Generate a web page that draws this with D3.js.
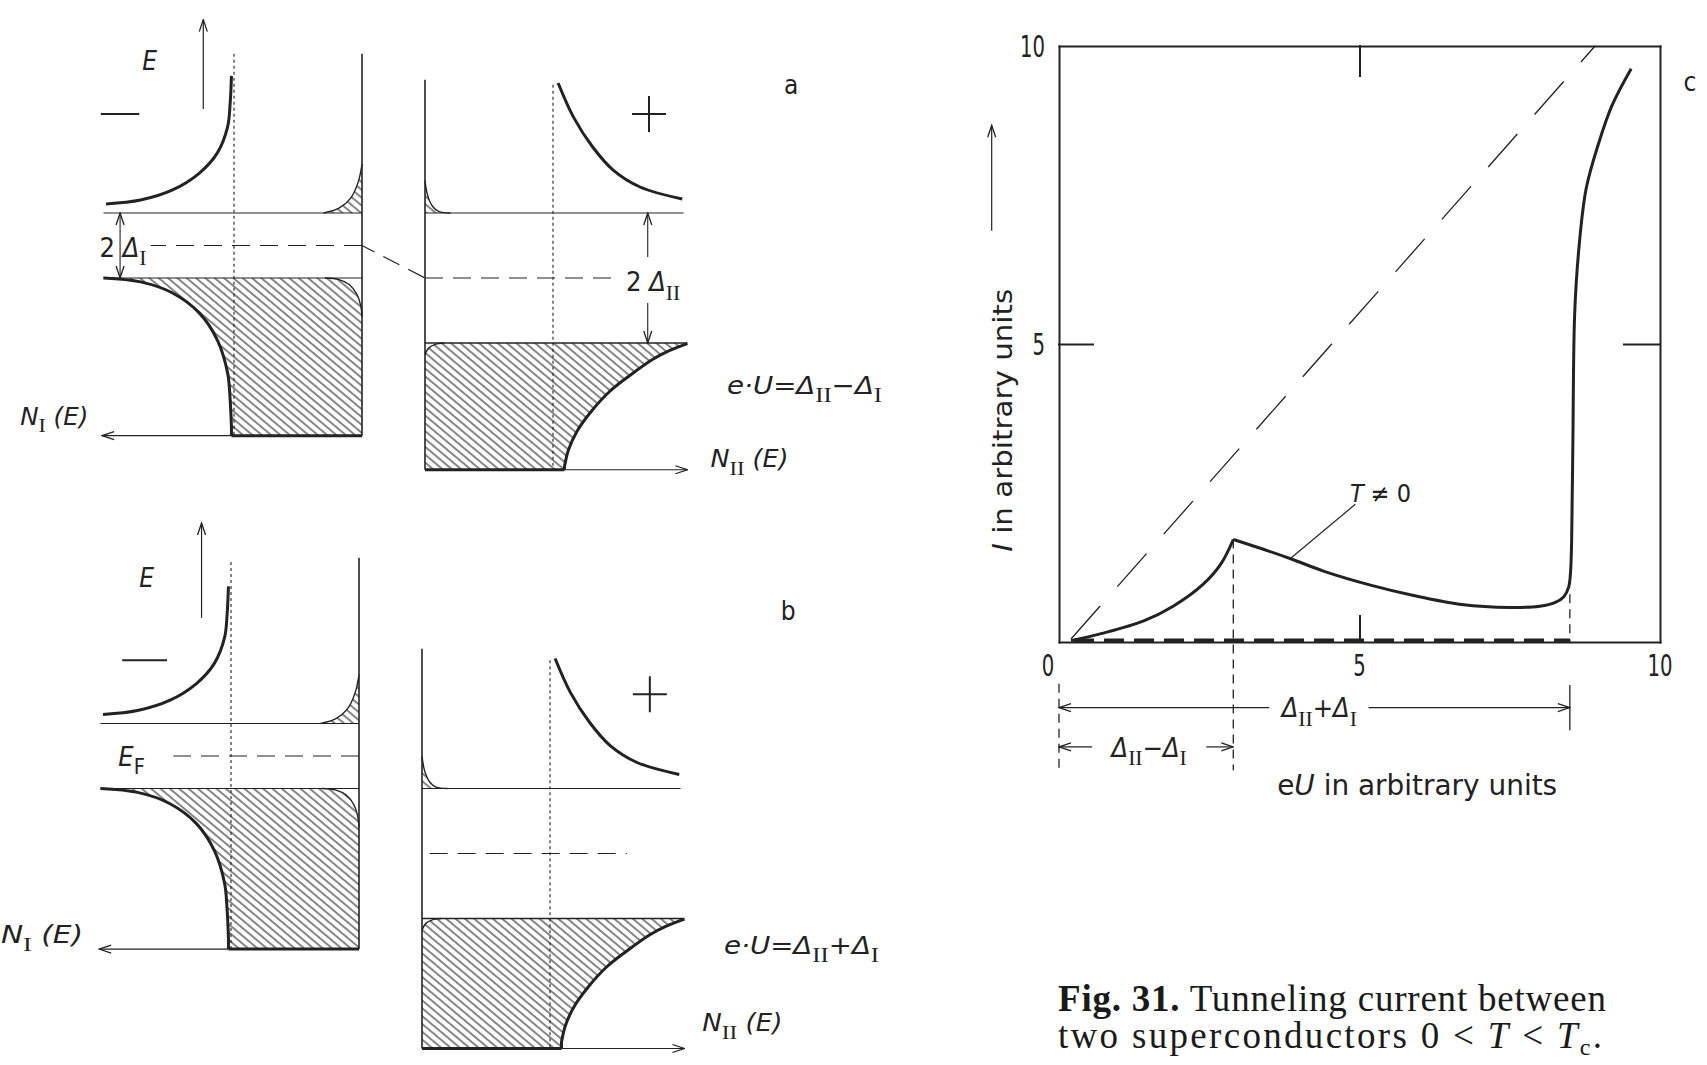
<!DOCTYPE html>
<html>
<head>
<meta charset="utf-8">
<script src="https://cdn.jsdelivr.net/npm/d3@7"></script>
<style>
  body { margin: 0; background: #fff; }
  svg { display: block; }
</style>
</head>
<body>
<div id="chart"></div>
<script>
// Fig. 31 - tunneling between two superconductors (DOS sketches a, b and I-U curve c)

// ---------- data ----------
// DOS sketches: points are [N, E], N in units of the normal DOS, E in units of Delta_I
const panelLetters = ["a", "b"];
const panelBias = [1, 3];          // eU = D_II - D_I and D_II + D_I
const panelSign = ["\u2212", "+"];
const deltaI = 1;
const deltaII = 2;

const dosIUpper = [[1.02, 5.22], [1.03, 4.38], [1.05, 3.65], [1.13, 2.85], [1.27, 2.23], [1.48, 1.71], [1.73, 1.4], [2.0, 1.28]];
const dosILower = [[2.02, -1.0], [1.73, -1.12], [1.48, -1.46], [1.27, -2.08], [1.13, -2.91], [1.05, -3.92], [1.03, -4.75], [1.02, -5.6]];
const tailIUpper = [[0.3, 1.0], [0.18, 1.15], [0.09, 1.45], [0.03, 1.95], [0, 2.5]];
const tailILower = [[0, -2.2], [0.01, -1.85], [0.04, -1.5], [0.1, -1.2], [0.18, -1.05], [0.29, -1.0]];

const dosIIUpper = [[1.04, 6.0], [1.16, 4.95], [1.31, 4.03], [1.47, 3.32], [1.68, 2.8], [2.01, 2.43]];
const dosIILower = [[2.05, -2.02], [1.9, -2.25], [1.78, -2.5], [1.6, -3.0], [1.44, -3.5], [1.3, -4.1], [1.19, -4.7], [1.12, -5.3], [1.09, -5.8]];
const tailIIUpper = [[0, 3.0], [0.02, 2.55], [0.06, 2.2], [0.11, 2.04], [0.2, 2.0]];
const tailIILower = [[0, -2.35], [0.03, -2.15], [0.08, -2.04], [0.15, -2.0]];

// I-U characteristic (arbitrary units)
const ivU = [0.2, 0.7, 1.4, 1.9, 2.4, 2.7, 2.9, 3.3, 3.9, 4.4, 5.2, 5.9, 6.7, 7.5, 8.0, 8.25, 8.4, 8.48, 8.51, 8.53, 8.55, 8.58, 8.65, 8.77, 8.97, 9.2, 9.52];
const ivI = [0.02, 0.14, 0.35, 0.6, 0.97, 1.32, 1.72, 1.59, 1.38, 1.19, 0.95, 0.78, 0.63, 0.58, 0.6, 0.66, 0.76, 0.92, 1.15, 1.7, 3.3, 5.5, 6.6, 7.6, 8.34, 9.0, 9.62];
const peakIndex = 6;
const ohmicU = [0.2, 8.92];
const ohmicI = [0.05, 10];
const gapDiffU = 2.9;
const gapSumU = 8.5;
const tickVals = [0, 5, 10];

// ---------- setup ----------
const W = 1707, H = 1065;
const ink = "#222";
const sansC = "'DejaVu Sans Condensed','Liberation Sans Narrow','DejaVu Sans',sans-serif";
const serif = "'Liberation Serif','DejaVu Serif',serif";

const svg = d3.select("#chart").append("svg")
    .attr("width", W).attr("height", H)
    .attr("viewBox", `0 0 ${W} ${H}`);

const defs = svg.append("defs");
const pat = defs.append("pattern").attr("id", "hatch")
    .attr("patternUnits", "userSpaceOnUse")
    .attr("width", 6).attr("height", 6)
    .attr("patternTransform", "rotate(-50)");
pat.append("line").attr("x1", 3).attr("y1", -1).attr("x2", 3).attr("y2", 7)
    .attr("stroke", "#444").attr("stroke-width", 1.3);

defs.append("marker").attr("id", "head")
    .attr("viewBox", "-13 -6 14 12").attr("refX", 0).attr("refY", 0)
    .attr("markerUnits", "userSpaceOnUse").attr("markerWidth", 14).attr("markerHeight", 12)
    .attr("orient", "auto-start-reverse")
    .append("path").attr("d", "M-12,-4 L0,0 L-12,4")
    .attr("fill", "none").attr("stroke", ink).attr("stroke-width", 1.3);

function dStr(parts, sx, sy) {
    const curved = d3.line().x(p => sx(p[0])).y(p => sy(p[1])).curve(d3.curveCatmullRom.alpha(0.5));
    const straight = d3.line().x(p => sx(p[0])).y(p => sy(p[1]));
    return parts.map((p, k) => {
        const s = (p.c ? curved : straight)(p.pts);
        return k ? s.replace(/^M/, "L") : s;
    }).join("");
}

function stroke(g, d, w, dash) {
    const p = g.append("path").attr("d", d).attr("fill", "none")
        .attr("stroke", ink).attr("stroke-width", w)
        .attr("stroke-linecap", "butt").attr("stroke-linejoin", "round");
    if (dash) p.attr("stroke-dasharray", dash);
    return p;
}

function arrow(g, x1, y1, x2, y2, w, start, end) {
    const l = g.append("line").attr("x1", x1).attr("y1", y1).attr("x2", x2).attr("y2", y2)
        .attr("stroke", ink).attr("stroke-width", w);
    if (start) l.attr("marker-start", "url(#head)");
    if (end) l.attr("marker-end", "url(#head)");
    return l;
}

// parts: [text, flags] flags: i italic, s subscript, r serif
function label(g, x, yc, parts, size, anchor, len) {
    const t = g.append("text").attr("x", x).attr("y", yc + size * 0.36)
        .attr("font-family", sansC).attr("font-size", size)
        .attr("text-anchor", anchor || "start").attr("fill", ink);
    let shift = 0;
    parts.forEach(([txt, f = ""]) => {
        const sp = t.append("tspan").text(txt);
        const want = f.includes("s") ? size * 0.32 : 0;
        if (want !== shift) { sp.attr("dy", want - shift); shift = want; }
        if (f.includes("i")) sp.attr("font-style", "italic");
        if (f.includes("r")) sp.attr("font-family", serif);
        if (f.includes("s")) sp.attr("font-size", size * 0.8);
    });
    if (len) t.attr("textLength", len).attr("lengthAdjust", "spacingAndGlyphs");
    return t;
}

// ---------- panels a, b : densities of states ----------
const nUnit = 128, eUnit = 32.5;
const dosLayout = [
    {xI: 362, xII: 425, yF: 245.5, topI: 5.9, topII: 6.1, botI: -5.85, botII: -5.9, dotI: 5.9,
     fermiI: [0, 1.65], fermiII: [0, 1.48], eArrow: [1.24, 4.2, 6.95], eLabel: [1.66, 5.7],
     minus: [1.74, 2.04, 4.05], plus: [1.75, 5.05], letter: [2.86, 5.94],
     nILabel: [2.67, -5.25, 68], nIILabel: [2.23, -5.55, 78], eq: [2.36, -3.3, 155],
     gapArrows: true, fermiLabel: false},
    {xI: 359, xII: 422, yF: 756, topI: 6.1, topII: 6.3, botI: -5.94, botII: -6.0, dotI: 5.97,
     fermiI: [0, 1.45], fermiII: [0.06, 1.6], eArrow: [1.23, 4.25, 7.17], eLabel: [1.66, 5.5],
     minus: [1.5, 1.85, 2.95], plus: [1.78, 4.9], letter: [2.86, 7.46],
     nILabel: [2.8, -5.5, 82], nIILabel: [2.19, -5.2, 80], eq: [2.36, -2.8, 155],
     gapArrows: false, fermiLabel: true}
];

panelLetters.forEach((letter, i) => {
    const L = dosLayout[i];
    const bias = panelBias[i];
    const g = svg.append("g").attr("class", "panel-" + letter);

    const nI = d3.scaleLinear().domain([0, 1]).range([L.xI, L.xI - nUnit]);
    const eI = d3.scaleLinear().domain([0, 1]).range([L.yF, L.yF - eUnit]);
    const nII = d3.scaleLinear().domain([0, 1]).range([L.xII, L.xII + nUnit]);
    const yF2 = L.yF + bias * eUnit;
    const eII = d3.scaleLinear().domain([0, 1]).range([yF2, yF2 - eUnit]);

    // ---- metal I (left, N grows to the left) ----
    const lastI = dosILower[dosILower.length - 1];
    g.append("path").attr("fill", "url(#hatch)").attr("d", dStr([
        {c: true, pts: dosILower},
        {pts: [lastI, [lastI[0], L.botI], [0, L.botI]]},
        {c: true, pts: tailILower}
    ], nI, eI) + "Z");
    g.append("path").attr("fill", "url(#hatch)").attr("d", dStr([
        {c: true, pts: tailIUpper}, {pts: [[0, 2.5], [0, deltaI]]}
    ], nI, eI) + "Z");

    stroke(g, dStr([{pts: [[0, L.topI], [0, L.botI]]}], nI, eI), 1.6);
    stroke(g, dStr([{pts: [[1, L.dotI], [1, L.botI]]}], nI, eI), 1.1, "3,3");
    stroke(g, dStr([{pts: [[0, deltaI], [2.02, deltaI]]}], nI, eI), 1.2);
    stroke(g, dStr([{pts: [[0, -deltaI], [2.02, -deltaI]]}], nI, eI), 1.2);
    stroke(g, dStr([{pts: [[L.fermiI[0], 0], [L.fermiI[1], 0]]}], nI, eI), 1.2, "18,10");
    stroke(g, dStr([{c: true, pts: dosIUpper}], nI, eI), 3);
    stroke(g, dStr([{c: true, pts: dosILower}, {pts: [lastI, [lastI[0], L.botI]]}], nI, eI), 3);
    stroke(g, dStr([{c: true, pts: tailIUpper}], nI, eI), 1.4);
    stroke(g, dStr([{c: true, pts: tailILower}], nI, eI), 1.4);
    stroke(g, dStr([{pts: [[0, L.botI], [lastI[0], L.botI]]}], nI, eI), 3);
    arrow(g, nI(lastI[0]), eI(L.botI), nI(2.03), eI(L.botI), 1.2, false, true);

    arrow(g, nI(L.eArrow[0]), eI(L.eArrow[1]), nI(L.eArrow[0]), eI(L.eArrow[2]), 1.2, false, true);
    label(g, nI(L.eLabel[0]), eI(L.eLabel[1]), [["E", "i"]], 26, "middle");
    stroke(g, dStr([{pts: [[L.minus[0], L.minus[2]], [L.minus[1], L.minus[2]]]}], nI, eI), 2);
    label(g, Math.max(1, nI(L.nILabel[0])), eI(L.nILabel[1]), [["N", "i"], ["I", "sr"], [" (E)", "i"]], 24, "start", L.nILabel[2]);

    // ---- metal II (right, N grows to the right) ----
    const lastII = dosIILower[dosIILower.length - 1];
    g.append("path").attr("fill", "url(#hatch)").attr("d", dStr([
        {pts: [[0.15, -deltaII], [2.05, -deltaII]]},
        {c: true, pts: dosIILower},
        {pts: [lastII, [lastII[0], L.botII], [0, L.botII]]},
        {c: true, pts: tailIILower}
    ], nII, eII) + "Z");
    g.append("path").attr("fill", "url(#hatch)").attr("d", dStr([
        {c: true, pts: tailIIUpper}, {pts: [[0.2, deltaII], [0, deltaII]]}
    ], nII, eII) + "Z");

    stroke(g, dStr([{pts: [[0, L.topII], [0, L.botII]]}], nII, eII), 1.6);
    stroke(g, dStr([{pts: [[1, 5.95], [1, L.botII]]}], nII, eII), 1.1, "3,3");
    stroke(g, dStr([{pts: [[0, deltaII], [2.02, deltaII]]}], nII, eII), 1.2);
    stroke(g, dStr([{pts: [[0, -deltaII], [2.05, -deltaII]]}], nII, eII), 1.4);
    stroke(g, dStr([{pts: [[L.fermiII[0], 0], [L.fermiII[1], 0]]}], nII, eII), 1.2, "18,10");
    stroke(g, dStr([{c: true, pts: dosIIUpper}], nII, eII), 3);
    stroke(g, dStr([{c: true, pts: dosIILower}, {pts: [lastII, [lastII[0], L.botII]]}], nII, eII), 3);
    stroke(g, dStr([{c: true, pts: tailIIUpper}], nII, eII), 1.4);
    stroke(g, dStr([{c: true, pts: tailIILower}], nII, eII), 1.4);
    stroke(g, dStr([{pts: [[0, L.botII], [lastII[0], L.botII]]}], nII, eII), 3);
    arrow(g, nII(lastII[0]), eII(L.botII), nII(2.05), eII(L.botII), 1.2, false, true);

    const px = nII(L.plus[0]), py = eII(L.plus[1]);
    g.append("line").attr("x1", px - 17).attr("x2", px + 17).attr("y1", py).attr("y2", py).attr("stroke", ink).attr("stroke-width", 2);
    g.append("line").attr("x1", px).attr("x2", px).attr("y1", py - 18).attr("y2", py + 18).attr("stroke", ink).attr("stroke-width", 2);

    label(g, nII(L.letter[0]), eII(L.letter[1]), [[letter]], 26, "middle");
    label(g, nII(L.nIILabel[0]), eII(L.nIILabel[1]), [["N", "i"], ["II", "sr"], [" (E)", "i"]], 24, "start", L.nIILabel[2]);
    label(g, nII(L.eq[0]), eII(L.eq[1]),
        [["e\u00b7U=\u0394", "i"], ["II", "sr"], [panelSign[i]], ["\u0394", "i"], ["I", "sr"]], 25, "start", L.eq[2]);

    if (L.gapArrows) {
        // 2 Delta_I
        arrow(g, nI(1.89), eI(deltaI), nI(1.89), eI(-deltaI), 1.1, true, true);
        label(g, nI(1.93), eI(-0.05), [["2"]], 27, "end");
        label(g, nI(1.87), eI(-0.05), [["\u0394", "i"], ["I", "sr"]], 27, "start");
        // 2 Delta_II
        arrow(g, nII(1.74), eII(0.65), nII(1.74), eII(deltaII), 1.1, false, true);
        arrow(g, nII(1.74), eII(-0.77), nII(1.74), eII(-deltaII), 1.1, false, true);
        label(g, nII(1.57), eII(-0.1), [["2 "], ["\u0394", "i"], ["II", "sr"]], 27, "start");
        // Fermi level link between both metals
        g.append("line").attr("x1", nI(0)).attr("y1", eI(0)).attr("x2", nII(0)).attr("y2", eII(0))
            .attr("stroke", ink).attr("stroke-width", 1.2).attr("stroke-dasharray", "18,10")
            .attr("stroke-dashoffset", 4);
    }
    if (L.fermiLabel) {
        label(g, nI(1.88), eI(0), [["E", "i"], ["F", "s"]], 27, "start");
    }
});

// ---------- panel c : tunneling current ----------
const cx = d3.scaleLinear().domain([0, 10]).range([1059, 1660]);
const cy = d3.scaleLinear().domain([0, 10]).range([642, 46]);
const gc = svg.append("g").attr("class", "panel-c");

gc.append("g").attr("transform", `translate(0,${cy(0)})`)
    .call(d3.axisBottom(cx).tickValues([5]).tickSizeInner(-26).tickSizeOuter(0).tickFormat(""));
gc.append("g").attr("transform", `translate(0,${cy(10)})`)
    .call(d3.axisTop(cx).tickValues([5]).tickSizeInner(-30).tickSizeOuter(0).tickFormat(""));
gc.append("g").attr("transform", `translate(${cx(0)},0)`)
    .call(d3.axisLeft(cy).tickValues([5]).tickSizeInner(-34).tickSizeOuter(0).tickFormat(""));
gc.append("g").attr("transform", `translate(${cx(10)},0)`)
    .call(d3.axisRight(cy).tickValues([5]).tickSizeInner(-36).tickSizeOuter(0).tickFormat(""));
gc.selectAll(".domain, .tick line").attr("stroke", ink).attr("stroke-width", 2).attr("stroke-linecap", "square");

// tick labels (narrow digits)
const digitW = v => String(v).length * 12.5;
tickVals.filter(v => v > 0).forEach(v => {
    label(gc, cx(0) - 14, cy(v), [[String(v)]], 30, "end", digitW(v));
    label(gc, cx(v), cy(0) + 23, [[String(v)]], 30, "middle", digitW(v));
});
label(gc, cx(0) - 11, cy(0) + 23, [[String(tickVals[0])]], 30, "middle", digitW(tickVals[0]));
label(gc, cx(10) + 30, cy(9.4), [["c"]], 26, "middle");

// normal-conducting reference line
const ivLine = d3.line().x(d => cx(d[0])).y(d => cy(d[1])).curve(d3.curveCatmullRom.alpha(0.5));
gc.append("path")
    .attr("d", d3.line().x(d => cx(d[0])).y(d => cy(d[1]))(ohmicU.map((u, k) => [u, ohmicI[k]])))
    .attr("fill", "none").attr("stroke", ink).attr("stroke-width", 1.3).attr("stroke-dasharray", "44,26");

// T = 0 current (thick dashed along the axis)
gc.append("line").attr("x1", cx(0.25)).attr("x2", cx(gapSumU)).attr("y1", cy(0) - 1.5).attr("y2", cy(0) - 1.5)
    .attr("stroke", ink).attr("stroke-width", 4).attr("stroke-dasharray", "20,10");

// T != 0 current, split at the cusp
const ivPts = ivU.map((u, k) => [u, ivI[k]]);
stroke(gc, ivLine(ivPts.slice(0, peakIndex + 1)), 3);
stroke(gc, ivLine(ivPts.slice(peakIndex)), 3);

// gap markers
stroke(gc, `M${cx(gapDiffU)},${cy(ivI[peakIndex])}V${cy(-2.15)}`, 1.3, "9,6");
stroke(gc, `M${cx(gapSumU)},${cy(0.8)}V${cy(0)}`, 1.3, "9,6");
stroke(gc, `M${cx(0)},${cy(-0.7)}V${cy(-2.15)}`, 1.3, "9,6");
stroke(gc, `M${cx(gapSumU)},${cy(-0.72)}V${cy(-1.48)}`, 1.3);

// D_II + D_I
arrow(gc, cx(3.5), cy(-1.1), cx(0), cy(-1.1), 1.2, false, true);
arrow(gc, cx(5.15), cy(-1.1), cx(gapSumU), cy(-1.1), 1.2, false, true);
label(gc, cx(4.33), cy(-1.1), [["\u0394", "i"], ["II", "sr"], ["+"], ["\u0394", "i"], ["I", "sr"]], 27, "middle");
// D_II - D_I
arrow(gc, cx(0.55), cy(-1.76), cx(0), cy(-1.76), 1.2, false, true);
arrow(gc, cx(2.45), cy(-1.76), cx(gapDiffU), cy(-1.76), 1.2, false, true);
label(gc, cx(1.5), cy(-1.76), [["\u0394", "i"], ["II", "sr"], ["\u2212"], ["\u0394", "i"], ["I", "sr"]], 27, "middle");

// T != 0 annotation
gc.append("line").attr("x1", cx(3.86)).attr("y1", cy(1.41)).attr("x2", cx(4.93)).attr("y2", cy(2.31))
    .attr("stroke", ink).attr("stroke-width", 1.2);
label(gc, cx(5.35), cy(2.5), [["T", "i"], [" \u2260 "], ["0"]], 25, "middle");

// axis titles
label(gc, cx(3.63), cy(-2.4), [["e", ""], ["U", "i"], [" in arbitrary units"]], 28, "start", 280);
const yt = gc.append("g").attr("transform", `translate(${cx(-0.8)},${cy(3.72)}) rotate(-90)`);
label(yt, 0, -9, [["I", "i"], ["  in arbitrary units"]], 27, "middle", 263);
arrow(gc, cx(-1.12), cy(6.9), cx(-1.12), cy(8.67), 1.2, false, true);

// caption
const cap1 = svg.append("text").attr("x", 1058).attr("y", 1011)
    .attr("font-family", serif).attr("font-size", 37).attr("fill", "#1a1a1a")
    .attr("textLength", 548).attr("lengthAdjust", "spacing");
cap1.append("tspan").attr("font-weight", "bold").text("Fig. 31.");
cap1.append("tspan").text(" Tunneling current between");
const cap2 = svg.append("text").attr("x", 1058).attr("y", 1048)
    .attr("font-family", serif).attr("font-size", 37).attr("fill", "#1a1a1a")
    .attr("textLength", 544).attr("lengthAdjust", "spacing");
cap2.append("tspan").text("two superconductors 0 < ");
cap2.append("tspan").attr("font-style", "italic").text("T");
cap2.append("tspan").text(" < ");
cap2.append("tspan").attr("font-style", "italic").text("T");
cap2.append("tspan").attr("font-size", 24).attr("dy", 7).text("c");
cap2.append("tspan").attr("dy", -7).text(".");
</script>
</body>
</html>
